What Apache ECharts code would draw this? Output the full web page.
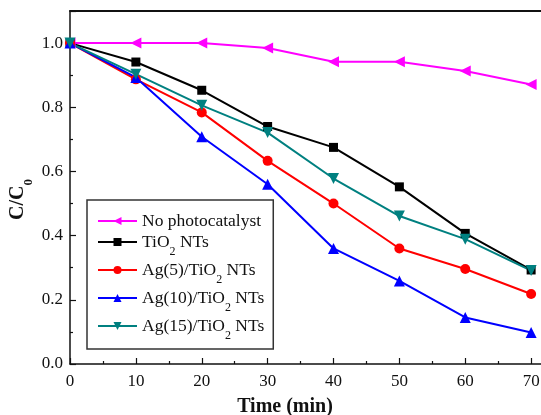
<!DOCTYPE html>
<html>
<head>
<meta charset="utf-8">
<script src="https://cdn.jsdelivr.net/npm/echarts@6/dist/echarts.min.js"></script>
<style>
  html, body { margin: 0; padding: 0; background: #fff; }
  #chart { width: 541px; height: 415px; }
</style>
</head>
<body>
<div id="chart"></div>
<script>
// Sampling times (min)
const times = [0, 10, 20, 30, 40, 50, 60, 70];

// Normalised concentration C/C0 for each sample
const noCatalyst = [1.0, 1.0, 1.0, 0.985, 0.942, 0.942, 0.913, 0.871];
const tio2NTs    = [1.0, 0.941, 0.853, 0.740, 0.675, 0.552, 0.407, 0.293];
const ag5        = [1.0, 0.887, 0.784, 0.633, 0.500, 0.360, 0.296, 0.218];
const ag10       = [1.0, 0.893, 0.708, 0.560, 0.360, 0.259, 0.145, 0.098];
const ag15       = [1.0, 0.903, 0.806, 0.721, 0.578, 0.461, 0.389, 0.291];

// Legend names (rich-text keys give the TiO2 subscript)
const names = ['No photocatalyst', 'TiO2 NTs', 'Ag(5)/TiO2 NTs', 'Ag(10)/TiO2 NTs', 'Ag(15)/TiO2 NTs'];

const FONT = '"Liberation Serif", "Times New Roman", serif';

function pairs(vals) { return times.map((t, i) => [t, vals[i]]); }

function mkSeries(name, vals, color, symbol, rotate, size) {
  return {
    name: name,
    type: 'line',
    data: pairs(vals),
    symbol: symbol,
    symbolRotate: rotate,
    symbolSize: size,
    lineStyle: { color: color, width: 2 },
    itemStyle: { color: color },
    z: 3
  };
}

const chart = echarts.init(document.getElementById('chart'), null, { renderer: 'canvas' });

chart.setOption({
  animation: false,
  backgroundColor: '#fff',
  grid: { left: 70, top: 11, right: -56, bottom: 51, containLabel: false, outerBoundsMode: 'none' },
  legend: {
    orient: 'vertical',
    left: 87,
    top: 200,
    data: names,
    itemWidth: 39,
    itemHeight: 10,
    itemGap: 3,
    padding: [12, 9, 7, 10],
    borderColor: '#333',
    borderWidth: 1.5,
    backgroundColor: '#fff',
    formatter: function (n) {
      return '{a|' + n.replace('TiO2', 'TiO}{s|2}{a|') + '}';
    },
    textStyle: {
      fontFamily: FONT,
      fontSize: 17.5,
      color: '#111',
      rich: {
        a: { fontFamily: FONT, fontSize: 17.5, color: '#111', lineHeight: 22 },
        s: { fontFamily: FONT, fontSize: 12, color: '#111', lineHeight: 22, verticalAlign: 'bottom', padding: [0, 0, -5, 0] }
      }
    }
  },
  xAxis: [{
    type: 'value',
    min: 0,
    max: 80,
    interval: 10,
    name: 'Time (min)',
    nameLocation: 'middle',
    nameGap: 33,
    nameTextStyle: { fontFamily: FONT, fontSize: 20, fontWeight: 'bold', color: '#111', padding: [0, 97, 0, 0] },
    axisLine: { lineStyle: { color: '#111', width: 1.5 } },
    axisTick: { inside: true, length: 6, lineStyle: { color: '#111', width: 1.2 } },
    minorTick: { show: true, splitNumber: 2, length: 3, lineStyle: { color: '#111', width: 1.2 } },
    axisLabel: { fontFamily: FONT, fontSize: 17, color: '#111', margin: 9 },
    splitLine: { show: false }
  }, {
    type: 'value',
    position: 'top',
    min: 0,
    max: 80,
    axisLine: { show: true, lineStyle: { color: '#111', width: 2 } },
    axisTick: { show: false },
    axisLabel: { show: false },
    splitLine: { show: false }
  }],
  yAxis: {
    type: 'value',
    min: 0,
    max: 1.1,
    interval: 0.2,
    name: '{c|C/C}{z|0}',
    nameLocation: 'middle',
    nameGap: 40,
    nameMoveOverlap: false,
    nameRotate: 90,
    nameTextStyle: {
      padding: [0, 24, 0, 0],
      rich: {
        c: { fontFamily: FONT, fontSize: 20, fontWeight: 'bold', color: '#111', lineHeight: 24 },
        z: { fontFamily: FONT, fontSize: 13, fontWeight: 'bold', color: '#111', lineHeight: 24, verticalAlign: 'bottom', padding: [0, 0, -5, 0] }
      }
    },
    axisLine: { show: true, lineStyle: { color: '#111', width: 1.5 } },
    axisTick: { inside: true, length: 6, lineStyle: { color: '#111', width: 1.2 } },
    minorTick: { show: true, splitNumber: 2, length: 3, lineStyle: { color: '#111', width: 1.2 } },
    axisLabel: {
      fontFamily: FONT, fontSize: 17, color: '#111', margin: 7,
      formatter: function (v) {
        const r = Math.round(v * 10) / 10;
        return (Math.abs(r * 5 - Math.round(r * 5)) < 1e-6 && Math.abs(v - r) < 1e-6) ? r.toFixed(1) : '';
      }
    },
    splitLine: { show: false }
  },
  series: [
    mkSeries(names[0], noCatalyst, '#ff00ff', 'triangle', 90, 11),
    mkSeries(names[1], tio2NTs, '#000000', 'rect', 0, 9),
    mkSeries(names[2], ag5, '#ff0000', 'circle', 0, 10),
    mkSeries(names[3], ag10, '#0000ff', 'triangle', 0, 11),
    mkSeries(names[4], ag15, '#008080', 'triangle', 180, 11)
  ]
});
</script>
</body>
</html>
